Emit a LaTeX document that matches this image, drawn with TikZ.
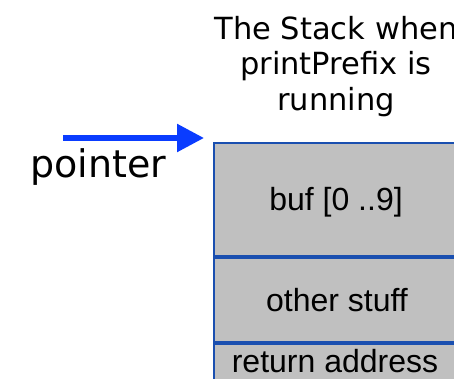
\documentclass[tikz,border=0pt]{standalone}
\usepackage{fontspec}
\setmainfont{DejaVu Sans}
\newfontfamily\boxfont{Liberation Sans}
\usetikzlibrary{arrows.meta}
\definecolor{boxfill}{HTML}{C0C0C0}
\definecolor{boxline}{HTML}{1A4FB0}
\definecolor{ptrblue}{HTML}{0A3CFF}
\tikzset{
  stackbox/.style={boxline, line width=2.6pt, fill=boxfill},
  boxtext/.style={inner sep=0pt, font=\boxfont\fontsize{32}{36}\selectfont},
  titletext/.style={align=center, font=\fontsize{30.5}{35.5}\selectfont, inner sep=0pt},
  ptrtext/.style={font=\fontsize{38}{42}\selectfont, inner sep=0pt, anchor=base west},
}
\begin{document}
\begin{tikzpicture}[x=1pt,y=1pt]
\useasboundingbox (0,0) rectangle (454,379);
\clip (0,0) rectangle (454,379);
% boxes (tikz y = 379 - image y)
\draw[stackbox] (214,236) rectangle (480,123);
\node[boxtext] (buf) at (336,177) {buf [0 ..9]};
\draw[stackbox] (214,121) rectangle (480,37);
\node[boxtext] (other) at (337,79) {other stuff};
\draw[stackbox] (214,35) rectangle (480,-30);
\node[boxtext, anchor=base] (ret) at (335,6) {return address};
% title
\node[titletext, anchor=north] (title) at (336,363) {The Stack when\\printPrefix is\\running};
% pointer
\node[ptrtext] (ptr) at (30,201) {pointer};
\coordinate (pstart) at (63,241);
\coordinate (pend) at (204,241);
\draw[ptrblue, line width=5.5pt, -{Triangle[length=27pt,width=27pt]}] (pstart) -- (pend);
\end{tikzpicture}
\end{document}
